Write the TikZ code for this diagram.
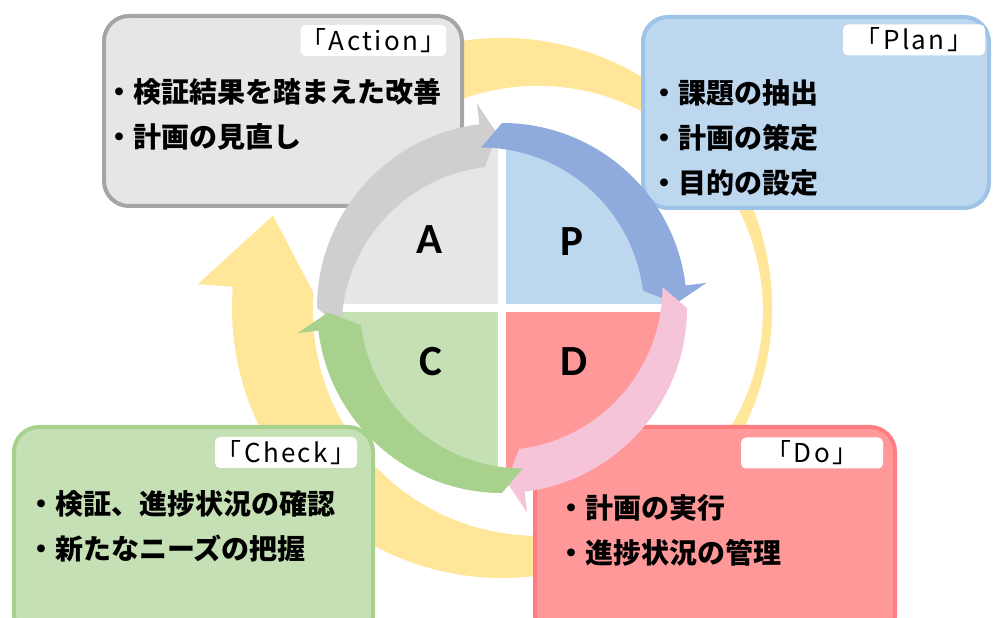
\documentclass[tikz,border=0pt]{standalone}
\usepackage{fontspec}
\setmainfont{Noto Sans CJK JP}
\newfontfamily\latinfont{Carlito}
\newfontfamily\tagfont[LetterSpace=9]{Noto Sans CJK JP}
\usepackage{tikz}
\usetikzlibrary{shapes,positioning}

\definecolor{ringYellow}{HTML}{FFE699}
\definecolor{actFill}{HTML}{E7E6E6}
\definecolor{actLine}{HTML}{A5A5A5}
\definecolor{planFill}{HTML}{BDD7EE}
\definecolor{planLine}{HTML}{9DC3E6}
\definecolor{doFill}{HTML}{FF9999}
\definecolor{doLine}{HTML}{FF7C80}
\definecolor{checkFill}{HTML}{C5E0B4}
\definecolor{checkLine}{HTML}{A9D18E}
\definecolor{arcA}{HTML}{D0CECE}
\definecolor{arcP}{HTML}{8FAADC}
\definecolor{arcD}{HTML}{F6C4D9}
\definecolor{arcC}{HTML}{A9D18E}

\begin{document}
\begin{tikzpicture}
[x=1pt,y=1pt]
\tikzset{
	box/.style = {rectangle, rounded corners=25pt, line width=4pt, inner sep=0},
	tag/.style = {rectangle, rounded corners=5pt, fill=white, minimum width=142pt, minimum height=31pt, inner sep=0, font=\tagfont\fontsize{26}{26}\selectfont},
	items/.style = {anchor=west, align=left, inner sep=0, font=\fontsize{28}{45}\selectfont\bfseries},
	letter/.style = {font=\latinfont\bfseries\fontsize{43}{43}\selectfont}
}
\useasboundingbox (0,0) rectangle (993,618);

% big yellow ring behind everything
\fill[ringYellow, shift={(502,310)}] (110:270) arc[start angle=110, end angle=-184.5, radius=270]
	-- (-184.5:305) -- (-202:247) -- (-184.5:189)
	arc[start angle=-184.5, end angle=110, radius=225] -- cycle;

% the four boxes
\node[box, fill=actFill, draw=actLine, minimum width=358pt, minimum height=190pt] (actBox) at (283,507) {};
\node[tag] (actTag) at (373.5,577.5) {「Action」};
\node[items] (actText) at (105,503.5) {・検証結果を踏まえた改善\\・計画の見直し};

\node[box, fill=planFill, draw=planLine, minimum width=346pt, minimum height=191pt] (planBox) at (816,505.5) {};
\node[tag] (planTag) at (914,578) {「Plan」};
\node[items] (planText) at (650,480.5) {・課題の抽出\\・計画の策定\\・目的の設定};

\node[box, fill=checkFill, draw=checkLine, minimum width=359pt, minimum height=213pt] (checkBox) at (193.5,84.5) {};
\node[tag] (checkTag) at (286,165.5) {「Check」};
\node[items] (checkText) at (27,91.5) {・検証、進捗状況の確認\\・新たなニーズの把握};

\node[box, fill=doFill, draw=doLine, minimum width=360pt, minimum height=213pt] (doBox) at (715,84.5) {};
\node[tag] (doTag) at (812,165) {「Do」};
\node[items] (doText) at (557,87.5) {・計画の実行\\・進捗状況の管理};

% the circle in the middle
\begin{scope}[shift={(502,310)}]
\fill[actFill] (0,0) -- (180:172) arc[start angle=180, end angle=90, radius=172] -- cycle;
\fill[planFill] (0,0) -- (90:172) arc[start angle=90, end angle=0, radius=172] -- cycle;
\fill[doFill] (0,0) -- (0:172) arc[start angle=0, end angle=-90, radius=172] -- cycle;
\fill[checkFill] (0,0) -- (-90:172) arc[start angle=-90, end angle=-180, radius=172] -- cycle;
\draw[white, line width=8pt] (-175,0) -- (175,0) (0,-175) -- (0,175);

\foreach \a/\col in {180/arcA, 90/arcP, 0/arcD, -90/arcC}
	\fill[\col] (\a:185) arc[start angle=\a, end angle=\a-83, radius=185]
		-- (\a-83:206) -- (\a-88.5:174) -- (\a-83:142)
		arc[start angle=\a-83, end angle=\a, radius=163] -- cycle;

\node[letter] (A) at (-72,68) {A};
\node[letter] (P) at (70,66) {P};
\node[letter] (C) at (-71,-54) {C};
\node[letter] (D) at (72,-54) {D};
\end{scope}

\end{tikzpicture}
\end{document}
